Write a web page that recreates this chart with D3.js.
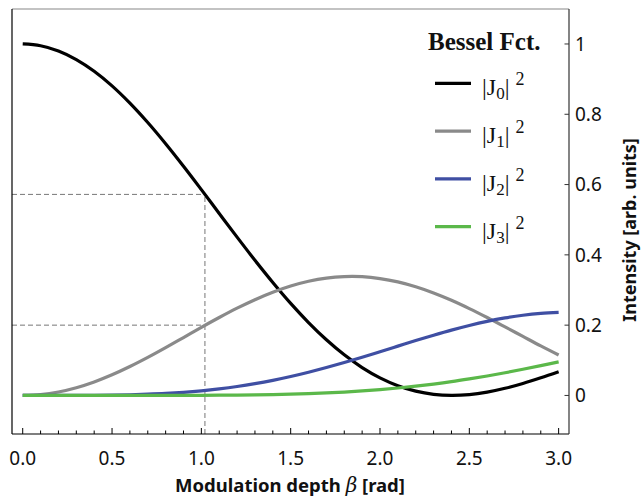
<!DOCTYPE html>
<html>
<head>
<meta charset="utf-8">
<script src="https://cdn.jsdelivr.net/npm/d3@7"></script>
<style>
  body { margin: 0; background: #fff; }
  svg { display: block; }
</style>
</head>
<body>
<svg id="chart" width="641" height="497"></svg>
<script>
// beta values (rad)
const beta = [0.0, 0.1, 0.2, 0.3, 0.4, 0.5, 0.6, 0.7, 0.8, 0.9,
              1.0, 1.1, 1.2, 1.3, 1.4, 1.5, 1.6, 1.7, 1.8, 1.9,
              2.0, 2.1, 2.2, 2.3, 2.4, 2.5, 2.6, 2.7, 2.8, 2.9, 3.0];

// squared Bessel amplitudes |Jn(beta)|^2
const j0sq = [1.0000, 0.9950, 0.9801, 0.9557, 0.9224, 0.8808, 0.8317, 0.7765, 0.7162, 0.6521,
              0.5855, 0.5178, 0.4504, 0.3845, 0.3214, 0.2619, 0.2074, 0.1584, 0.1156, 0.0794,
              0.0501, 0.0278, 0.0122, 0.0031, 0.0000, 0.0023, 0.0094, 0.0203, 0.0342, 0.0503, 0.0677];
const j1sq = [0.0000, 0.0025, 0.0099, 0.0220, 0.0384, 0.0587, 0.0822, 0.1082, 0.1360, 0.1648,
              0.1937, 0.2217, 0.2483, 0.2725, 0.2937, 0.3113, 0.3248, 0.3339, 0.3381, 0.3378,
              0.3326, 0.3230, 0.3091, 0.2915, 0.2706, 0.2471, 0.2217, 0.1950, 0.1679, 0.1409, 0.1150];
const j2sq = [0.0000, 0.0000, 0.0000, 0.0001, 0.0004, 0.0009, 0.0019, 0.0035, 0.0057, 0.0089,
              0.0132, 0.0187, 0.0254, 0.0335, 0.0430, 0.0539, 0.0661, 0.0794, 0.0937, 0.1088,
              0.1245, 0.1403, 0.1561, 0.1713, 0.1858, 0.1990, 0.2107, 0.2205, 0.2282, 0.2335, 0.2363];
const j3sq = [0.0000, 0.0000, 0.0000, 0.0000, 0.0000, 0.0000, 0.0000, 0.0000, 0.0001, 0.0002,
              0.0004, 0.0007, 0.0011, 0.0017, 0.0026, 0.0037, 0.0053, 0.0072, 0.0097, 0.0128,
              0.0166, 0.0211, 0.0264, 0.0324, 0.0392, 0.0470, 0.0554, 0.0646, 0.0744, 0.0847, 0.0955];

const seriesOrder = ["0", "1", "2", "3"];
const seriesColors = ["#000000", "#8a8a8a", "#3f4fa3", "#5bb84a"];
const seriesValues = [j0sq, j1sq, j2sq, j3sq];

// marker at beta = 1.02
const markBeta = 1.02;
const markLevels = [0.572, 0.200];

const xTicks = [0, 0.5, 1.0, 1.5, 2.0, 2.5, 3.0];
const xMinor = d3.range(0, 31).map(d => d / 10);
const yTicks = [0, 0.2, 0.4, 0.6, 0.8, 1];

const svg = d3.select("#chart");
const padL = 12, padR = 569, padT = 9, padB = 434;

const x = d3.scaleLinear().domain([-0.06, 3.058]).range([padL, padR]);
const y = d3.scaleLinear().domain([-0.1097, 1.0995]).range([padB, padT]);

// dashed guides
const guides = svg.append("g")
    .attr("stroke", "#777")
    .attr("stroke-width", 1)
    .attr("stroke-dasharray", "5,3")
    .attr("fill", "none");
guides.append("line")
    .attr("x1", x(markBeta)).attr("x2", x(markBeta))
    .attr("y1", padB).attr("y2", y(markLevels[0]));
markLevels.forEach(v => {
    guides.append("line")
        .attr("x1", padL).attr("x2", x(markBeta))
        .attr("y1", y(v)).attr("y2", y(v));
});

// curves
const line = d3.line()
    .x((d, i) => x(beta[i]))
    .y(d => y(d))
    .curve(d3.curveCatmullRom);

seriesValues.forEach((vals, k) => {
    svg.append("path")
        .datum(vals)
        .attr("d", line)
        .attr("fill", "none")
        .attr("stroke", seriesColors[k])
        .attr("stroke-width", 3.2)
        .attr("stroke-linecap", "butt");
});

// frame
svg.append("line").attr("x1", padL).attr("x2", padR).attr("y1", padT).attr("y2", padT)
    .attr("stroke", "#888").attr("stroke-width", 1.2);
svg.append("line").attr("x1", padL).attr("x2", padL).attr("y1", padT).attr("y2", padB)
    .attr("stroke", "#000").attr("stroke-width", 1.2);
svg.append("line").attr("x1", padL).attr("x2", padR).attr("y1", padB).attr("y2", padB)
    .attr("stroke", "#000").attr("stroke-width", 1.2);
svg.append("line").attr("x1", padR).attr("x2", padR).attr("y1", padT).attr("y2", padB)
    .attr("stroke", "#333").attr("stroke-width", 1.2);

// x axis ticks (inward)
const xAxis = svg.append("g").attr("stroke", "#000").attr("stroke-width", 1);
xMinor.forEach(v => {
    const major = xTicks.some(t => Math.abs(t - v) < 1e-6);
    xAxis.append("line")
        .attr("x1", x(v)).attr("x2", x(v))
        .attr("y1", padB).attr("y2", padB - (major ? 6 : 3.5));
});
svg.append("g").selectAll("text")
    .data(xTicks)
    .join("text")
    .attr("x", d => x(d))
    .attr("y", 465)
    .attr("text-anchor", "middle")
    .attr("font-family", "Noto Sans, sans-serif")
    .attr("font-size", 19)
    .attr("fill", "#111")
    .text(d => d3.format(".1f")(d));

// y axis on the right
const yAxis = svg.append("g");
yTicks.forEach(v => {
    yAxis.append("line")
        .attr("x1", padR - 4.5).attr("x2", padR)
        .attr("y1", y(v)).attr("y2", y(v))
        .attr("stroke", "#333").attr("stroke-width", 1);
    yAxis.append("text")
        .attr("x", padR + 6)
        .attr("y", y(v))
        .attr("dy", "0.35em")
        .attr("font-family", "Noto Sans, sans-serif")
        .attr("font-size", 19)
        .attr("fill", "#111")
        .text(d3.format("~g")(v));
});

// axis titles
const xt = svg.append("text")
    .attr("x", 290)
    .attr("y", 492)
    .attr("text-anchor", "middle")
    .attr("font-family", "Noto Sans, sans-serif")
    .attr("font-weight", "bold")
    .attr("font-size", 18.5)
    .attr("fill", "#111");
xt.append("tspan").text("Modulation depth ");
xt.append("tspan").attr("font-style", "italic").attr("font-weight", "normal")
    .attr("font-family", "DejaVu Serif, serif").attr("font-size", 20).text("β");
xt.append("tspan").text(" [rad]");

svg.append("text")
    .attr("transform", "translate(636,230) rotate(-90)")
    .attr("text-anchor", "middle")
    .attr("font-family", "Noto Sans, sans-serif")
    .attr("font-weight", "bold")
    .attr("font-size", 18)
    .attr("fill", "#111")
    .text("Intensity [arb. units]");

// legend
const legend = svg.append("g");
legend.append("text")
    .attr("x", 428)
    .attr("y", 50)
    .attr("font-family", "Liberation Serif, Times New Roman, serif")
    .attr("font-weight", "bold")
    .attr("font-size", 25)
    .attr("fill", "#111")
    .text("Bessel Fct.");

seriesOrder.forEach((n, k) => {
    const ly = 83.3 + k * 47.8;
    legend.append("line")
        .attr("x1", 435).attr("x2", 471)
        .attr("y1", ly).attr("y2", ly)
        .attr("stroke", seriesColors[k])
        .attr("stroke-width", 3.2);
    const t = legend.append("text")
        .attr("x", 482)
        .attr("y", ly + 12)
        .attr("font-family", "Liberation Serif, Times New Roman, serif")
        .attr("font-size", 24)
        .attr("fill", "#111");
    t.append("tspan").text("|J");
    t.append("tspan").attr("font-size", 17).attr("dy", 4).text(n);
    t.append("tspan").attr("dy", -4).text("|");
    t.append("tspan").attr("font-size", 18).attr("dy", -10).attr("dx", 6).text("2");
});
</script>
</body>
</html>
